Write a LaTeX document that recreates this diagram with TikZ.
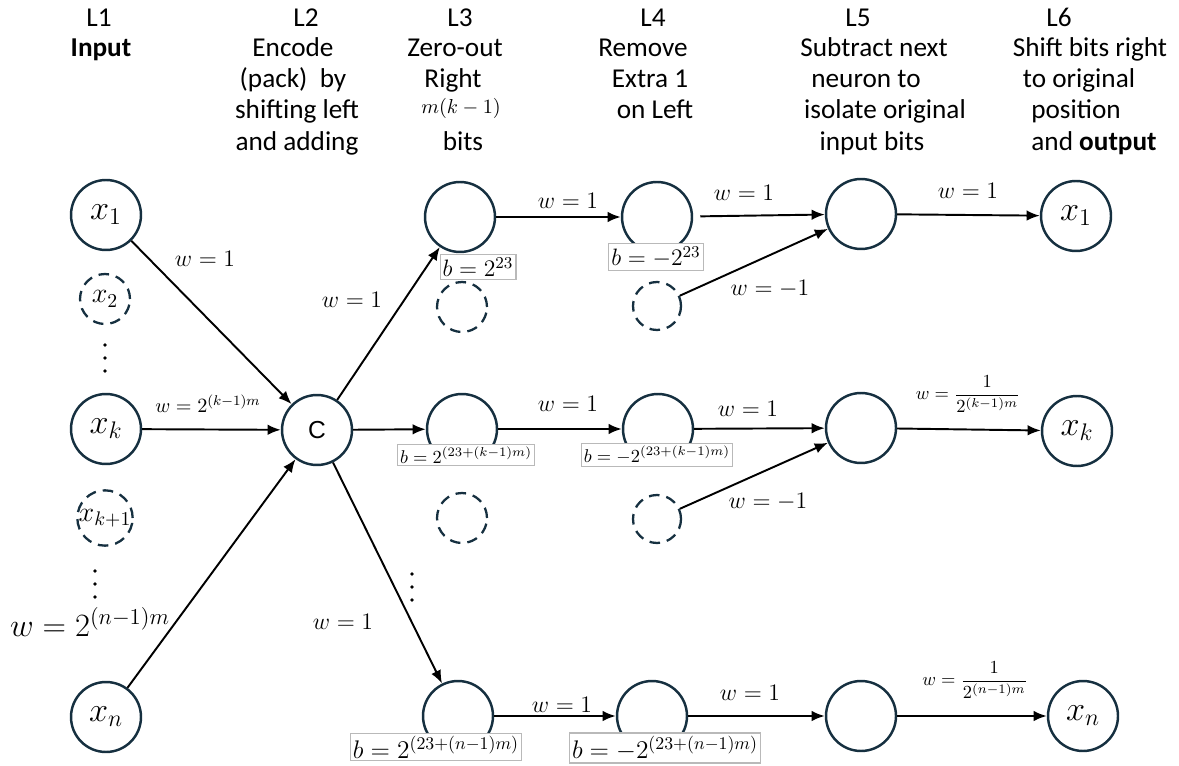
\RequirePackage{fix-cm}
\documentclass[tikz,border=0pt]{standalone}
\usepackage{fontspec}
\newfontfamily\hdr{Carlito}
\newfontfamily\arialf{Liberation Sans}
\usetikzlibrary{arrows.meta}
\definecolor{nodec}{RGB}{22,48,64}
\begin{document}
\begin{tikzpicture}[x=0.02cm,y=-0.02cm,
 neuron/.style={circle,draw=nodec,line width=1.4pt,minimum size=1.4cm,inner sep=0pt,font=\fontsize{19.5}{22}\selectfont},
 ghost/.style={circle,draw=nodec,line width=1.3pt,dash pattern=on 6pt off 4pt,minimum size=1.0cm,inner sep=0pt,font=\fontsize{16}{18}\selectfont},
 edge/.style={-{Latex[length=7.5pt,width=6pt]},line width=1.1pt},
 wl/.style={font=\fontsize{13.5}{15}\selectfont,inner sep=0pt},
 ws/.style={font=\fontsize{11.5}{13}\selectfont,inner sep=0pt},
 wf/.style={font=\fontsize{10.5}{12}\selectfont,inner sep=0pt},
 hd/.style={font=\hdr\fontsize{15.5}{18}\selectfont,inner sep=0pt,anchor=base},
 bias/.style={draw=gray!55,fill=white,line width=0.6pt,inner sep=1.5pt},
 dotc/.style={fill=black,draw=none}
]
\useasboundingbox (0,0) rectangle (1179,766);

% headers
\node[hd] (h1a) at (99,27) {L1};
\node[hd] (h1b) at (101,57) {\bfseries Input};
\node[hd] (h2a) at (306,27) {L2};
\node[hd] (h2b) at (293,57) {Encode};
\node[hd] (h2c) at (293,88) {(pack)\ \ by};
\node[hd] (h2d) at (297,119) {shifting left};
\node[hd] (h2e) at (297,151) {and adding};
\node[hd] (h3a) at (460,27) {L3};
\node[hd] (h3b) at (455,57) {Zero-out};
\node[hd] (h3c) at (453,88) {Right};
\node[font=\fontsize{11.5}{13}\selectfont,inner sep=0pt] (h3d) at (461,108) {$m(k-1)$};
\node[hd] (h3e) at (463,151) {bits};
\node[hd] (h4a) at (653,27) {L4};
\node[hd] (h4b) at (643,57) {Remove};
\node[hd] (h4c) at (650,88) {Extra 1};
\node[hd] (h4d) at (655,119) {on Left};
\node[hd] (h5a) at (858,27) {L5};
\node[hd] (h5b) at (874,57) {Subtract next};
\node[hd] (h5c) at (866,88) {neuron to};
\node[hd] (h5d) at (885,119) {isolate original};
\node[hd] (h5e) at (872,151) {input bits};
\node[hd] (h6a) at (1059,27) {L6};
\node[hd] (h6b) at (1090,57) {Shift bits right};
\node[hd] (h6c) at (1079,88) {to original};
\node[hd] (h6d) at (1076,119) {position};
\node[hd] (h6e) at (1094,151) {and \bfseries output};

% layer 1
\node[neuron] (x1) at (106,215) {$x_1$};
\node[ghost] (x2) at (105,299) {$x_2$};
\node[neuron] (xk) at (106,429) {$x_k$};
\node[ghost] (xk1) at (105,518) {$x_{k+1}$};
\node[neuron] (xn) at (106,717) {$x_n$};
\foreach \yy in {345,358,371} \fill[dotc] (105,\yy) circle (1.9);
\foreach \yy in {571,584,597} \fill[dotc] (95,\yy) circle (1.9);
\foreach \yy in {574,587,600} \fill[dotc] (412,\yy) circle (1.9);

% layer 2
\node[neuron,font=\arialf\fontsize{14}{16}\selectfont] (C) at (317,430) {C};

% layer 3
\node[neuron] (a1) at (460,217) {};
\node[ghost] (g1) at (462,307) {};
\node[neuron] (ak) at (462,429) {};
\node[ghost] (gk) at (462,518) {};
\node[neuron] (an) at (458,716) {};

% layer 4
\node[neuron] (b1) at (657,217) {};
\node[ghost,minimum size=0.96cm] (h1) at (657,306) {};
\node[neuron] (bk) at (658,429) {};
\node[ghost,minimum size=0.96cm] (hk) at (657,519) {};
\node[neuron] (bn) at (652,716) {};

% layer 5
\node[neuron] (c1) at (861,214) {};
\node[neuron] (ck) at (861,428) {};
\node[neuron] (cn) at (861,716) {};

% layer 6
\node[neuron] (o1) at (1076,216) {$x_1$};
\node[neuron] (ok) at (1077,431) {$x_k$};
\node[neuron] (on) at (1083,716) {$x_n$};

% bias boxes
\node[bias,font=\fontsize{13.5}{15}\selectfont] (bb1) at (478,267) {$b=2^{23}$};
\node[bias,font=\fontsize{13.5}{15}\selectfont] (bb2) at (656,257) {$b=-2^{23}$};
\node[bias,font=\fontsize{10.5}{12}\selectfont] (bb3) at (466,455) {$b=2^{(23+(k-1)m)}$};
\node[bias,font=\fontsize{10.5}{12}\selectfont] (bb4) at (657,455) {$b=-2^{(23+(k-1)m)}$};
\node[bias,font=\fontsize{14.5}{16}\selectfont] (bb5) at (436,747) {$b=2^{(23+(n-1)m)}$};
\node[bias,font=\fontsize{14.5}{16}\selectfont] (bb6) at (665,748) {$b=-2^{(23+(n-1)m)}$};

% edges into C
\draw[edge] (x1) -- (C);
\draw[edge] (xk) -- (C);
\draw[edge] (xn) -- (C);
% C out
\draw[edge] (C) -- (a1);
\draw[edge] (C) -- (ak);
\draw[edge] (C) -- (an);
% L3 -> L4
\draw[edge] (a1) -- (b1);
\draw[edge] (ak) -- (bk);
\draw[edge] (an) -- (bn);
% L4 -> L5
\draw[edge,shorten <=4pt] (b1) -- (c1);
\draw[edge] (h1) -- (c1);
\draw[edge] (bk) -- (ck);
\draw[edge] (hk) -- (ck);
\draw[edge] (bn) -- (cn);
% L5 -> L6
\draw[edge] (c1) -- (o1);
\draw[edge] (ck) -- (ok);
\draw[edge] (cn) -- (on);

% weight labels
\node[wl] (l1) at (205,259) {$w=1$};
\node[ws] (l2) at (208,404) {$w=2^{(k-1)m}$};
\node[font=\fontsize{18.5}{20}\selectfont,inner sep=0pt] (l3) at (90,622) {$w=2^{(n-1)m}$};
\node[wl] (l4) at (352,300) {$w=1$};
\node[wl] (l5) at (343,622) {$w=1$};
\node[wl] (l6) at (568,201) {$w=1$};
\node[wl] (l7) at (744,193) {$w=1$};
\node[wl] (l8) at (770,289) {$w=-1$};
\node[wl] (l9) at (968,191) {$w=1$};
\node[wl] (l10) at (568,404) {$w=1$};
\node[wl] (l11) at (748,409) {$w=1$};
\node[wl] (l12) at (768,502) {$w=-1$};
\node[wf] (l13) at (968,394) {$w={\displaystyle\frac{1}{2^{(k-1)m}}}$};
\node[wl] (l14) at (562,705) {$w=1$};
\node[wl] (l15) at (750,693) {$w=1$};
\node[wf] (l16) at (975,680) {$w={\displaystyle\frac{1}{2^{(n-1)m}}}$};
\end{tikzpicture}
\end{document}
